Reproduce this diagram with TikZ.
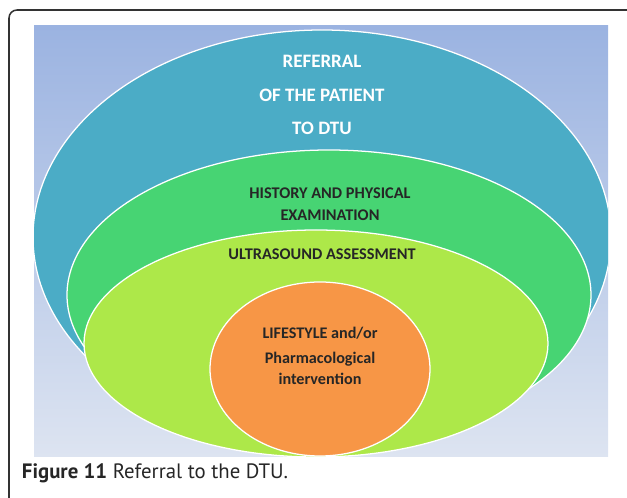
\documentclass[tikz,border=0pt]{standalone}
\usepackage{fontspec}
\setmainfont{Carlito}
\newfontfamily\capfont{PT Sans}
\definecolor{paneltop}{HTML}{9BB3E1}
\definecolor{panelbottom}{HTML}{DDE4F1}
\definecolor{referralteal}{HTML}{4BACC6}
\definecolor{historygreen}{HTML}{47D473}
\definecolor{ultralime}{HTML}{ADE849}
\definecolor{lifeorange}{HTML}{F79646}

\begin{document}
\begin{tikzpicture}
[x=0.025cm, y=-0.025cm,
frame/.style={draw=black!80, line width=1.1pt, rounded corners=0.2cm},
ring/.style={draw=white, line width=0.9pt},
ringtext/.style={font=\bfseries\fontsize{11.6}{16}\selectfont, text=black!85, align=center},
toptext/.style={font=\bfseries\fontsize{13.5}{24}\selectfont, text=white, align=center},
captext/.style={font=\capfont\fontsize{14.8}{17}\selectfont, text=black!85, anchor=west},]
    \useasboundingbox (0,0) rectangle (627,498);
    \draw[frame] (627,10) -- (9,10) -- (9,498);
    \shade[top color=paneltop, bottom color=panelbottom] (34,26) rectangle (608,457);
    \begin{scope}
        \clip (34,26) rectangle (608,457);
        \filldraw[ring, fill=referralteal] (322,237) ellipse [x radius=289, y radius=207];
        \filldraw[ring, fill=historygreen] (329,295) ellipse [x radius=262, y radius=145];
        \filldraw[ring, fill=ultralime] (316,343.5) ellipse [x radius=232, y radius=113.5];
        \filldraw[ring, fill=lifeorange] (320,369) ellipse [x radius=110, y radius=87];
    \end{scope}
    \node (referral) [toptext] at (322,95) {REFERRAL\\OF THE PATIENT\\TO DTU};
    \node (history) [ringtext] at (330,204) {HISTORY AND PHYSICAL\\EXAMINATION};
    \node (ultrasound) [ringtext] at (322,254) {ULTRASOUND ASSESSMENT};
    \node (lifestyle) [ringtext, font=\bfseries\fontsize{11.5}{15}\selectfont] at (320,356) {LIFESTYLE and/or\\[3pt]Pharmacological\\intervention};
    \node (caption) [captext] at (17,473) {\textbf{Figure 11} Referral to the DTU.};
\end{tikzpicture}
\end{document}
